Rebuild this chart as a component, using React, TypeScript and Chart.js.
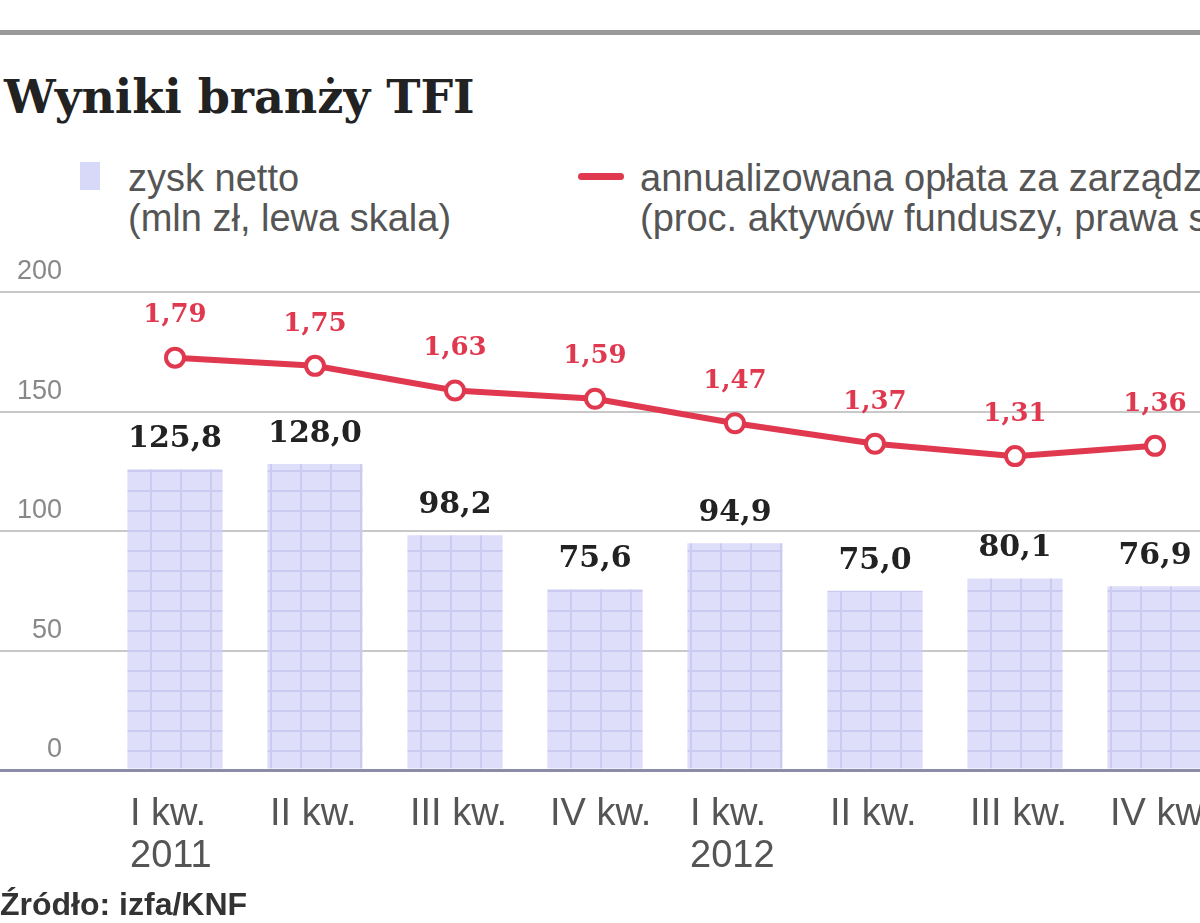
import { useEffect, useRef } from "react";
import { Chart, registerables, Plugin } from "chart.js";

Chart.register(...registerables);

const quarters = [
  ["I kw.", "2011"],
  ["II kw."],
  ["III kw."],
  ["IV kw."],
  ["I kw.", "2012"],
  ["II kw."],
  ["III kw."],
  ["IV kw."],
];
const netProfit = [125.8, 128.0, 98.2, 75.6, 94.9, 75.0, 80.1, 76.9];
const feeRate = [1.79, 1.75, 1.63, 1.59, 1.47, 1.37, 1.31, 1.36];

const RED = "#e0394f";

function makeBarPattern(): CanvasPattern | string {
  const c = document.createElement("canvas");
  c.width = 30;
  c.height = 20;
  const g = c.getContext("2d");
  if (!g) return "#dcdcf8";
  g.fillStyle = "#dedefa";
  g.fillRect(0, 0, 30, 20);
  g.fillStyle = "#cbcbf2";
  g.fillRect(0, 0, 2, 20);
  g.fillRect(0, 0, 30, 2);
  return g.createPattern(c, "repeat") || "#dcdcf8";
}

const valueLabels: Plugin = {
  id: "valueLabels",
  afterDatasetsDraw(chart) {
    const ctx = chart.ctx;
    ctx.save();
    ctx.textAlign = "center";
    ctx.textBaseline = "middle";
    chart.data.datasets.forEach((ds, di) => {
      const meta = chart.getDatasetMeta(di);
      meta.data.forEach((el: any, i) => {
        const v = ds.data[i] as number;
        if (meta.type === "bar") {
          ctx.fillStyle = "#222";
          ctx.font = "bold 30px 'DejaVu Serif'";
          ctx.fillText(v.toFixed(1).replace(".", ","), el.x, el.y - 30);
        } else {
          ctx.fillStyle = RED;
          ctx.font = "bold 26px 'DejaVu Serif'";
          ctx.fillText(v.toFixed(2).replace(".", ","), el.x, el.y - 42);
        }
      });
    });
    ctx.restore();
  },
};

function TfiChart() {
  const chartRef = useRef<HTMLCanvasElement | null>(null);
  const chartInstance = useRef<Chart | null>(null);

  useEffect(() => {
    if (!chartRef.current) return;
    if (chartInstance.current) chartInstance.current.destroy();

    chartInstance.current = new Chart(chartRef.current, {
      type: "bar",
      data: {
        labels: quarters,
        datasets: [
          {
            type: "line",
            label: "annualizowana opłata za zarządzanie",
            data: feeRate,
            yAxisID: "y1",
            borderColor: RED,
            borderWidth: 6,
            pointRadius: 9,
            pointBackgroundColor: "#fff",
            pointBorderColor: RED,
            pointBorderWidth: 4,
            tension: 0,
            order: 0,
          },
          {
            type: "bar",
            label: "zysk netto",
            data: netProfit,
            yAxisID: "y",
            backgroundColor: makeBarPattern(),
            borderWidth: 0,
            categoryPercentage: 0.68,
            barPercentage: 1,
            order: 1,
          },
        ],
      },
      options: {
        responsive: false,
        animation: false,
        layout: { padding: { top: 42, right: 35, left: 0, bottom: 0 } },
        plugins: {
          legend: { display: false },
          tooltip: { enabled: false },
        },
        scales: {
          x: {
            z: 1,
            grid: { display: false },
            border: { display: true, color: "#8c8ca8", width: 3 },
            ticks: {
              align: "start",
              labelOffset: -45,
              padding: 16,
              autoSkip: false,
              maxRotation: 0,
              color: "#555",
              font: { family: "'Liberation Sans'", size: 38, lineHeight: 1.1 },
            },
            afterFit: (scale: any) => {
              scale.height = 153;
              scale.paddingLeft = 0;
              scale.paddingRight = 0;
            },
          },
          y: {
            position: "left",
            min: 0,
            max: 200,
            border: { display: false },
            grid: {
              color: (c: any) => (c.tick && c.tick.value === 0 ? "#8c8ca8" : "#c8c8c8"),
              lineWidth: (c: any) => (c.tick && c.tick.value === 0 ? 3 : 2),
              tickLength: 105,
            },
            ticks: {
              stepSize: 50,
              padding: -62,
              labelOffset: -20,
              color: "#888",
              font: { family: "'Liberation Sans'", size: 27 },
            },
            afterFit: (scale: any) => {
              scale.width = 105;
              scale.paddingTop = 0;
              scale.paddingBottom = 0;
            },
          },
          y1: {
            position: "right",
            display: false,
            min: -0.22,
            max: 2.11,
          },
        },
      },
      plugins: [valueLabels],
    });

    return () => {
      if (chartInstance.current) {
        chartInstance.current.destroy();
        chartInstance.current = null;
      }
    };
  }, []);

  return (
    <canvas
      ref={chartRef}
      width={1260}
      height={673}
      style={{ position: "absolute", left: 0, top: 250, width: 1260, height: 673 }}
    ></canvas>
  );
}

export default function App() {
  const legendText: React.CSSProperties = {
    position: "absolute",
    fontFamily: "'Liberation Sans', Arial, sans-serif",
    fontSize: 38,
    lineHeight: "40px",
    color: "#555",
    whiteSpace: "nowrap",
  };
  return (
    <div
      style={{
        position: "fixed",
        left: 0,
        top: 0,
        width: 1200,
        height: 923,
        overflow: "hidden",
        background: "#fff",
      }}
    >
      <div style={{ position: "absolute", left: 0, top: 30, width: 1200, height: 5, background: "#9a9a9a" }} />
      <div
        style={{
          position: "absolute",
          left: 4,
          top: 70,
          fontFamily: "'DejaVu Serif', serif",
          fontWeight: "bold",
          fontSize: 46,
          color: "#222",
          whiteSpace: "nowrap",
        }}
      >
        Wyniki branży TFI
      </div>
      <div
        style={{
          position: "absolute",
          left: 80,
          top: 162,
          width: 20,
          height: 28,
          background: "#d8d8f8",
        }}
      />
      <div style={{ ...legendText, left: 128, top: 158 }}>
        zysk netto
        <br />
        (mln zł, lewa skala)
      </div>
      <div
        style={{
          position: "absolute",
          left: 578,
          top: 173,
          width: 46,
          height: 7,
          borderRadius: 4,
          background: RED,
        }}
      />
      <div style={{ ...legendText, left: 640, top: 158 }}>
        annualizowana opłata za zarządzanie
        <br />
        (proc. aktywów funduszy, prawa skala)
      </div>
      <TfiChart />
      <div
        style={{
          position: "absolute",
          left: 0,
          top: 886,
          fontFamily: "'Liberation Sans', Arial, sans-serif",
          fontWeight: "bold",
          fontSize: 32,
          color: "#333",
          whiteSpace: "nowrap",
        }}
      >
        Źródło: izfa/KNF
      </div>
    </div>
  );
}
